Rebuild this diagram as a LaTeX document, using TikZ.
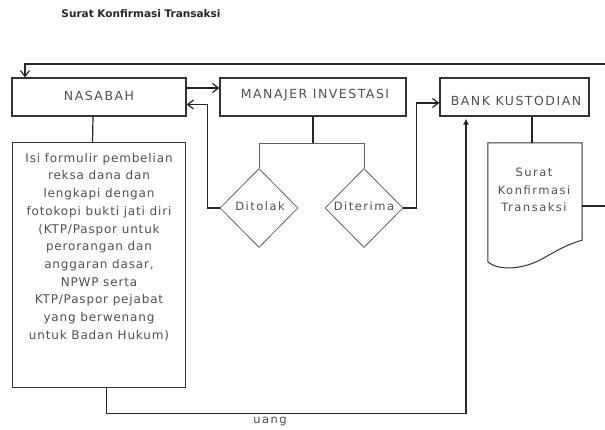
\documentclass[tikz,border=0pt]{standalone}
\usepackage{fontspec}
\setmainfont{DejaVu Sans}
\newfontfamily\boxfont[LetterSpace=12]{DejaVu Sans}
\newfontfamily\txtfont[LetterSpace=7]{DejaVu Sans}
\newfontfamily\dfont[LetterSpace=13]{DejaVu Sans}
\usetikzlibrary{arrows.meta,shapes.geometric}
\definecolor{ink}{HTML}{505050}
\definecolor{edge}{HTML}{333333}
\definecolor{light}{HTML}{606060}
\begin{document}
\begin{tikzpicture}[x=1pt,y=-1pt,
  box/.style={draw=edge,line width=1.1pt,rectangle,inner sep=0pt},
  boxlabel/.style={text=ink,font=\boxfont\fontsize{12.5}{14}\selectfont,inner sep=0pt},
  dia/.style={draw=light,line width=0.8pt,diamond,inner sep=0pt,minimum width=78pt,minimum height=79pt},
  dialabel/.style={text=ink,font=\dfont\fontsize{11.5}{13}\selectfont,inner sep=0pt},
  conn/.style={draw=black!85,line width=1.2pt},
  thin/.style={draw=light,line width=0.9pt},
  barb/.style={-{Straight Barb[length=6pt,width=9pt]}},
]
\useasboundingbox[fill=white] (0,0) rectangle (605,430);

\node[inner sep=0pt,text=black!85,font=\bfseries\fontsize{10.5}{12}\selectfont] (title) at (141,14) {Surat Konfirmasi Transaksi};

% main boxes
\node[box,minimum width=174pt,minimum height=38pt] (nasabah) at (99,97) {};
\node[boxlabel] (nasabahtxt) at (99,96) {NASABAH};
\node[box,minimum width=186pt,minimum height=38pt] (manajer) at (313,97) {};
\node[boxlabel] (manajertxt) at (315,95) {MANAJER INVESTASI};
\node[box,minimum width=149pt,minimum height=38pt] (bank) at (514.5,97) {};
\node[boxlabel] (banktxt) at (516,101) {BANK KUSTODIAN};

% detail box
\node[draw=edge,line width=1pt,rectangle,inner sep=0pt,minimum width=173pt,minimum height=244pt] (detail) at (98.5,265) {};
\node[text=ink,font=\txtfont\fontsize{12}{17.7}\selectfont,align=center,inner sep=0pt] (detailtxt) at (99,247)
 {Isi formulir pembelian\\reksa dana dan\\lengkapi dengan\\fotokopi bukti jati diri\\(KTP/Paspor untuk\\perorangan dan\\anggaran dasar,\\NPWP serta\\KTP/Paspor pejabat\\yang berwenang\\untuk Badan Hukum)};

% diamonds
\node[dia] (tolak) at (259,208) {};
\node[dialabel] (tolaktxt) at (260,206) {Ditolak};
\node[dia] (terima) at (364,208) {};
\node[dialabel] (terimatxt) at (364,206) {Diterima};

% document shape
\node[rectangle,inner sep=0pt,minimum width=94pt,minimum height=97pt] (doc) at (535,191.5) {};
\draw[draw=edge,line width=1pt] (doc.south west) ++(0,22) -- (doc.north west) -- (doc.north east) -- (doc.south east)
  .. controls (565,245) and (555,252) .. (540,260)
  .. controls (525,268) and (500,272) .. (488,262);
\node[text=ink,font=\dfont\fontsize{11.5}{17.5}\selectfont,align=center,inner sep=0pt] (doctxt) at (534,190) {Surat\\Konfirmasi\\Transaksi};

% connectors
\draw[conn,barb] ([yshift=9pt]nasabah.east) -- ([yshift=9pt]manajer.west);
\draw[conn,barb] (tolak.west) -- ++(-12,0) |- ([yshift=-7.5pt]nasabah.east);
\draw[conn] (manajer.south) -- ++(0,27) coordinate (split);
\draw[thin] (tolak.north) |- (split) -| (terima.north);
\draw[conn,barb] (terima.east) -- ++(13,0) |- ([yshift=-6pt]bank.west);
\draw[conn] ([xshift=-6pt]nasabah.south) -- ([xshift=-6pt]detail.north);
\draw[conn,-{Latex[length=6pt,width=6pt]}] ([xshift=8pt]detail.south) -- ++(0,26) -| ([xshift=-48.5pt,yshift=-2pt]bank.south);
\node[text=ink,font=\dfont\fontsize{11.5}{13}\selectfont,inner sep=0pt] (uang) at (270,421) {uang};
\draw[conn] ([xshift=17.5pt]bank.south) -- ([xshift=-3pt]doc.north);
\coordinate (rim) at (612,64);
\draw[conn,barb] ([yshift=-14.5pt]doc.east) -| (rim) -| ([xshift=-74pt]nasabah.north);
\end{tikzpicture}
\end{document}
